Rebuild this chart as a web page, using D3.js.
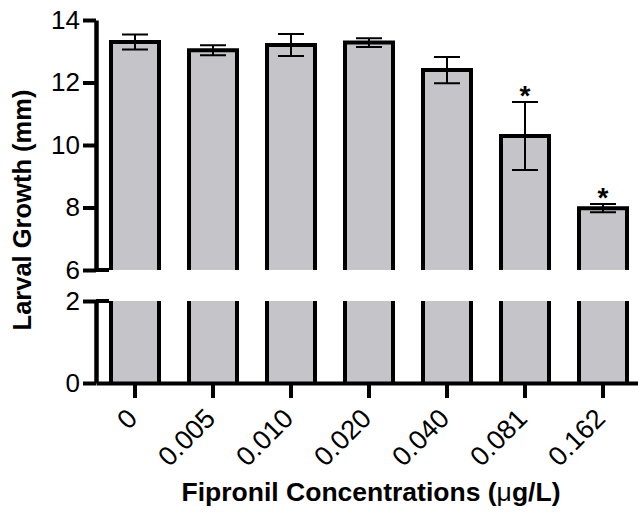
<!DOCTYPE html>
<html>
<head>
<meta charset="utf-8">
<script src="https://cdn.jsdelivr.net/npm/d3@7"></script>
<style>
  html, body { margin: 0; padding: 0; background: #fff; }
  svg { display: block; font-family: "Liberation Sans", Arial, Helvetica, sans-serif; }
</style>
</head>
<body>
<svg id="chart" width="638" height="512"></svg>
<script>
const categories = ["0", "0.005", "0.010", "0.020", "0.040", "0.081", "0.162"];
const means      = [13.30, 13.03, 13.20, 13.28, 12.40, 10.29, 7.98];
const errors     = [0.24, 0.16, 0.35, 0.14, 0.42, 1.09, 0.13];
const significant = [false, false, false, false, false, true, true];
const topTicks    = [6, 8, 10, 12, 14];
const bottomTicks = [0, 2];
const yTitle = "Larval Growth (mm)";
const xTitleMain = "Fipronil Concentrations (";
const xTitleMu = "\u03bc";
const xTitleEnd = "g/L)";

const data = categories.map((c, i) => ({ cat: c, mean: means[i], err: errors[i], sig: significant[i] }));

const svg = d3.select("#chart");
const axisX = 96;
const barFill = "#c4c4c9";
const sw = 4;
const fontFam = "'Liberation Sans', Arial, Helvetica, sans-serif";

const x = d3.scaleBand().domain(categories).range([96, 642]).paddingInner(1/3).paddingOuter(1/6);
const yTop = d3.scaleLinear().domain([6, 14]).range([270, 20]);
const yBot = d3.scaleLinear().domain([0, 2]).range([383, 301]);

const bw = x.bandwidth();

const bars = svg.append("g");
data.forEach(d => {
  const x0 = x(d.cat) + sw / 2, x1 = x(d.cat) + bw - sw / 2;
  bars.append("rect")
    .attr("x", x0).attr("y", yBot(2))
    .attr("width", x1 - x0).attr("height", yBot(0) - yBot(2))
    .attr("fill", barFill);
  bars.append("path")
    .attr("d", `M${x0},${yBot(2)}V${yBot(0)}M${x1},${yBot(2)}V${yBot(0)}`)
    .attr("stroke", "#000").attr("stroke-width", sw).attr("fill", "none");
  bars.append("rect")
    .attr("x", x0).attr("y", yTop(d.mean))
    .attr("width", x1 - x0).attr("height", yTop(6) - yTop(d.mean))
    .attr("fill", barFill);
  bars.append("path")
    .attr("d", `M${x0},${yTop(6)}V${yTop(d.mean)}H${x1}V${yTop(6)}`)
    .attr("stroke", "#000").attr("stroke-width", sw).attr("fill", "none")
    .attr("stroke-linejoin", "miter");
});

const eb = svg.append("g").attr("stroke", "#000").attr("stroke-width", 2).attr("fill", "none");
data.forEach(d => {
  const cx = x(d.cat) + bw / 2;
  const capW = 13;
  const yHi = yTop(d.mean + d.err), yLo = yTop(d.mean - d.err);
  eb.append("path")
    .attr("d", `M${cx},${yHi}V${yLo}M${cx - capW},${yHi}H${cx + capW}M${cx - capW},${yLo}H${cx + capW}`);
});

svg.append("g").selectAll("text")
  .data(data.filter(d => d.sig))
  .join("text")
  .attr("x", d => x(d.cat) + bw / 2)
  .attr("y", d => yTop(d.mean + d.err) + 3)
  .attr("text-anchor", "middle")
  .attr("font-size", 28)
  .attr("font-weight", "bold")
  .text("*");

const gyTop = svg.append("g").attr("transform", `translate(${axisX},0)`)
  .call(d3.axisLeft(yTop).tickValues(topTicks).tickSize(13).tickSizeOuter(0).tickPadding(3).tickFormat(d3.format("d")));
const gyBot = svg.append("g").attr("transform", `translate(${axisX},0)`)
  .call(d3.axisLeft(yBot).tickValues(bottomTicks).tickSize(13).tickSizeOuter(0).tickPadding(3).tickFormat(d3.format("d")));
[gyTop, gyBot].forEach(g => {
  g.select(".domain").attr("stroke", "#000").attr("stroke-width", 4.5);
  g.selectAll(".tick line").attr("stroke", "#000").attr("stroke-width", 4);
  g.selectAll(".tick text").attr("font-size", 26).attr("fill", "#000").attr("font-family", fontFam);
});
svg.append("path")
  .attr("d", `M${axisX},${yTop(6)}H${axisX + 13}M${axisX},${yBot(2)}H${axisX + 13}`)
  .attr("stroke", "#000").attr("stroke-width", 4);

const gx = svg.append("g").attr("transform", `translate(0,${yBot(0)})`)
  .call(d3.axisBottom(x).tickSize(15).tickSizeOuter(0));
gx.select(".domain").attr("stroke", "#000").attr("stroke-width", 4);
gx.selectAll(".tick line").attr("stroke", "#000").attr("stroke-width", 4);
gx.selectAll(".tick text")
  .attr("font-size", 27).attr("fill", "#000").attr("font-family", fontFam)
  .attr("y", null).attr("dy", null)
  .attr("text-anchor", "end")
  .attr("transform", "translate(4,37) rotate(-45)");

svg.append("text")
  .attr("transform", "translate(31,210) rotate(-90)")
  .attr("text-anchor", "middle")
  .attr("font-size", 25.5)
  .attr("font-weight", "bold")
  .text(yTitle);

const xt = svg.append("text")
  .attr("x", 371).attr("y", 501)
  .attr("text-anchor", "middle")
  .attr("font-size", 26.5)
  .attr("font-weight", "bold");
xt.append("tspan").text(xTitleMain);
xt.append("tspan").attr("font-weight", "normal").text(xTitleMu);
xt.append("tspan").text(xTitleEnd);
</script>
</body>
</html>
